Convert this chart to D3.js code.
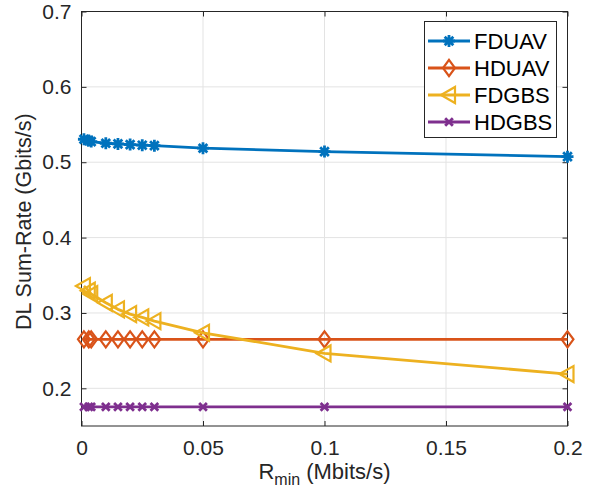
<!DOCTYPE html>
<html>
<head>
<meta charset="utf-8">
<script src="https://cdn.jsdelivr.net/npm/d3@7"></script>
<style>
  html, body { margin: 0; padding: 0; background: #fff; }
  svg { display: block; font-family: "Liberation Sans", Arial, Helvetica, sans-serif; }
</style>
</head>
<body>
<svg id="chart" width="598" height="494"></svg>
<script>
// Minimum rate requirement (Mbits/s)
const rMin = [0.001, 0.003, 0.004, 0.01, 0.015, 0.02, 0.025, 0.03, 0.05, 0.1, 0.2];

// DL sum-rate (Gbits/s) per scheme
const fdUAV = [0.5305, 0.5287, 0.5274, 0.5252, 0.5243, 0.5234, 0.5226, 0.5220, 0.5186, 0.5141, 0.5074];
const hdUAV = [0.265, 0.265, 0.265, 0.265, 0.265, 0.265, 0.265, 0.265, 0.265, 0.265, 0.265];
const fdGBS = [0.3357, 0.3295, 0.3251, 0.3135, 0.3048, 0.2985, 0.2941, 0.2892, 0.2737, 0.2463, 0.2189];
const hdGBS = [0.1754, 0.1754, 0.1754, 0.1754, 0.1754, 0.1754, 0.1754, 0.1754, 0.1754, 0.1754, 0.1754];

const seriesNames = ["FDUAV", "HDUAV", "FDGBS", "HDGBS"];
const seriesColors = ["#0072BD", "#D95319", "#EDB120", "#7E2F8E"];
const seriesMarkers = ["asterisk", "diamond", "triangleLeft", "cross"];

const xTicks = [0, 0.05, 0.1, 0.15, 0.2];
const xTickLabels = ["0", "0.05", "0.1", "0.15", "0.2"];
const yTicks = [0.2, 0.3, 0.4, 0.5, 0.6, 0.7];
const yTickLabels = ["0.2", "0.3", "0.4", "0.5", "0.6", "0.7"];

const series = [fdUAV, hdUAV, fdGBS, hdGBS].map((vals, i) => ({
  name: seriesNames[i],
  color: seriesColors[i],
  marker: seriesMarkers[i],
  points: rMin.map((r, j) => ({ x: r, y: vals[j] }))
}));

const svg = d3.select("#chart");
const plot = { left: 81.5, right: 567.5, top: 11.5, bottom: 426 };
const x = d3.scaleLinear().domain([0, 0.2]).range([plot.left, plot.right]);
const y = d3.scaleLinear().domain([0.15, 0.7]).range([plot.bottom, plot.top]);

const axisColor = "#262626";
const gridColor = "#e3e3e3";

// grid lines
const grid = svg.append("g");
grid.selectAll("line.gx").data(xTicks.slice(1, -1)).join("line")
  .attr("x1", d => x(d)).attr("x2", d => x(d))
  .attr("y1", plot.top).attr("y2", plot.bottom)
  .attr("stroke", gridColor).attr("stroke-width", 1);
grid.selectAll("line.gy").data(yTicks.slice(0, -1)).join("line")
  .attr("x1", plot.left).attr("x2", plot.right)
  .attr("y1", d => y(d)).attr("y2", d => y(d))
  .attr("stroke", gridColor).attr("stroke-width", 1);

// axes (ticks pointing inward)
const fontSize = 21;
const xAxis = d3.axisBottom(x).tickValues(xTicks)
  .tickFormat((d, i) => xTickLabels[i]).tickSizeInner(-5).tickSizeOuter(0).tickPadding(14);
const yAxis = d3.axisLeft(y).tickValues(yTicks)
  .tickFormat((d, i) => yTickLabels[i]).tickSizeInner(-5).tickSizeOuter(0).tickPadding(10);

const gx = svg.append("g").attr("transform", `translate(0,${plot.bottom})`).call(xAxis);
const gy = svg.append("g").attr("transform", `translate(${plot.left},0)`).call(yAxis);
[gx, gy].forEach(g => {
  g.select(".domain").remove();
  g.selectAll("line").attr("stroke", axisColor);
  g.selectAll("text").attr("fill", axisColor).style("font-size", fontSize + "px")
    .style("font-family", '"Liberation Sans", Arial, sans-serif');
});

// mirrored ticks on top and right
const gxTop = svg.append("g").attr("transform", `translate(0,${plot.top})`)
  .call(d3.axisTop(x).tickValues(xTicks).tickSizeInner(-5).tickSizeOuter(0).tickFormat(""));
const gyRight = svg.append("g").attr("transform", `translate(${plot.right},0)`)
  .call(d3.axisRight(y).tickValues(yTicks).tickSizeInner(-5).tickSizeOuter(0).tickFormat(""));
[gxTop, gyRight].forEach(g => {
  g.select(".domain").remove();
  g.selectAll("line").attr("stroke", axisColor);
});

// box
svg.append("rect")
  .attr("x", plot.left).attr("y", plot.top)
  .attr("width", plot.right - plot.left).attr("height", plot.bottom - plot.top)
  .attr("fill", "none").attr("stroke", axisColor).attr("stroke-width", 1);

// marker shapes
function drawMarker(g, type, color, size) {
  const r = size / 2;
  if (type === "asterisk") {
    const p = d3.path();
    p.moveTo(-r, 0); p.lineTo(r, 0);
    p.moveTo(0, -r); p.lineTo(0, r);
    const k = r * 0.72;
    p.moveTo(-k, -k); p.lineTo(k, k);
    p.moveTo(-k, k); p.lineTo(k, -k);
    g.append("path").attr("d", p.toString()).attr("stroke", color)
      .attr("stroke-width", 2.8).attr("fill", "none");
  } else if (type === "diamond") {
    g.append("path")
      .attr("d", `M0,${-r * 1.15}L${r * 0.85},0L0,${r * 1.15}L${-r * 0.85},0Z`)
      .attr("stroke", color).attr("stroke-width", 2.2).attr("fill", "none");
  } else if (type === "triangleLeft") {
    g.append("path")
      .attr("d", `M${-r},0L${r * 0.75},${-r}L${r * 0.75},${r}Z`)
      .attr("stroke", color).attr("stroke-width", 2.2).attr("fill", "none");
  } else if (type === "cross") {
    const k = r * 0.7;
    g.append("path").attr("d", `M${-k},${-k}L${k},${k}M${-k},${k}L${k},${-k}`)
      .attr("stroke", color).attr("stroke-width", 2.8).attr("fill", "none");
  }
}

const line = d3.line().x(d => x(d.x)).y(d => y(d.y));
const markerSize = { asterisk: 12, diamond: 14, triangleLeft: 16, cross: 11 };

const dataLayer = svg.append("g");
series.forEach(s => {
  const g = dataLayer.append("g");
  g.append("path").datum(s.points).attr("d", line)
    .attr("fill", "none").attr("stroke", s.color).attr("stroke-width", 2.8)
    .attr("stroke-linejoin", "round");
  s.points.forEach(p => {
    const m = g.append("g").attr("transform", `translate(${x(p.x)},${y(p.y)})`);
    drawMarker(m, s.marker, s.color, markerSize[s.marker]);
  });
});

// axis titles
const xl = svg.append("text")
  .attr("x", (plot.left + plot.right) / 2).attr("y", 479)
  .attr("text-anchor", "middle").attr("fill", axisColor)
  .style("font-size", "22px");
xl.append("tspan").text("R");
xl.append("tspan").text("min").attr("dy", 6).style("font-size", "16px");
xl.append("tspan").text(" (Mbits/s)").attr("dy", -6);

svg.append("text")
  .attr("transform", `translate(31,${(plot.top + plot.bottom) / 2 + 3}) rotate(-90)`)
  .attr("text-anchor", "middle").attr("fill", axisColor)
  .style("font-size", "21.5px")
  .text("DL Sum-Rate (Gbits/s)");

// legend
const legend = svg.append("g");
const lg = { x: 424.5, y: 21.5, w: 132, h: 116 };
legend.append("rect").attr("x", lg.x).attr("y", lg.y).attr("width", lg.w).attr("height", lg.h)
  .attr("fill", "#fff").attr("stroke", axisColor).attr("stroke-width", 1);
series.forEach((s, i) => {
  const cy = 41 + i * 27;
  const row = legend.append("g");
  row.append("line").attr("x1", 428).attr("x2", 470).attr("y1", cy).attr("y2", cy)
    .attr("stroke", s.color).attr("stroke-width", 2.8);
  const m = row.append("g").attr("transform", `translate(449,${cy})`);
  drawMarker(m, s.marker, s.color, markerSize[s.marker]);
  row.append("text").attr("x", 474).attr("y", cy).attr("dy", "0.36em")
    .attr("fill", "#000").style("font-size", "22px").text(s.name);
});
</script>
</body>
</html>
